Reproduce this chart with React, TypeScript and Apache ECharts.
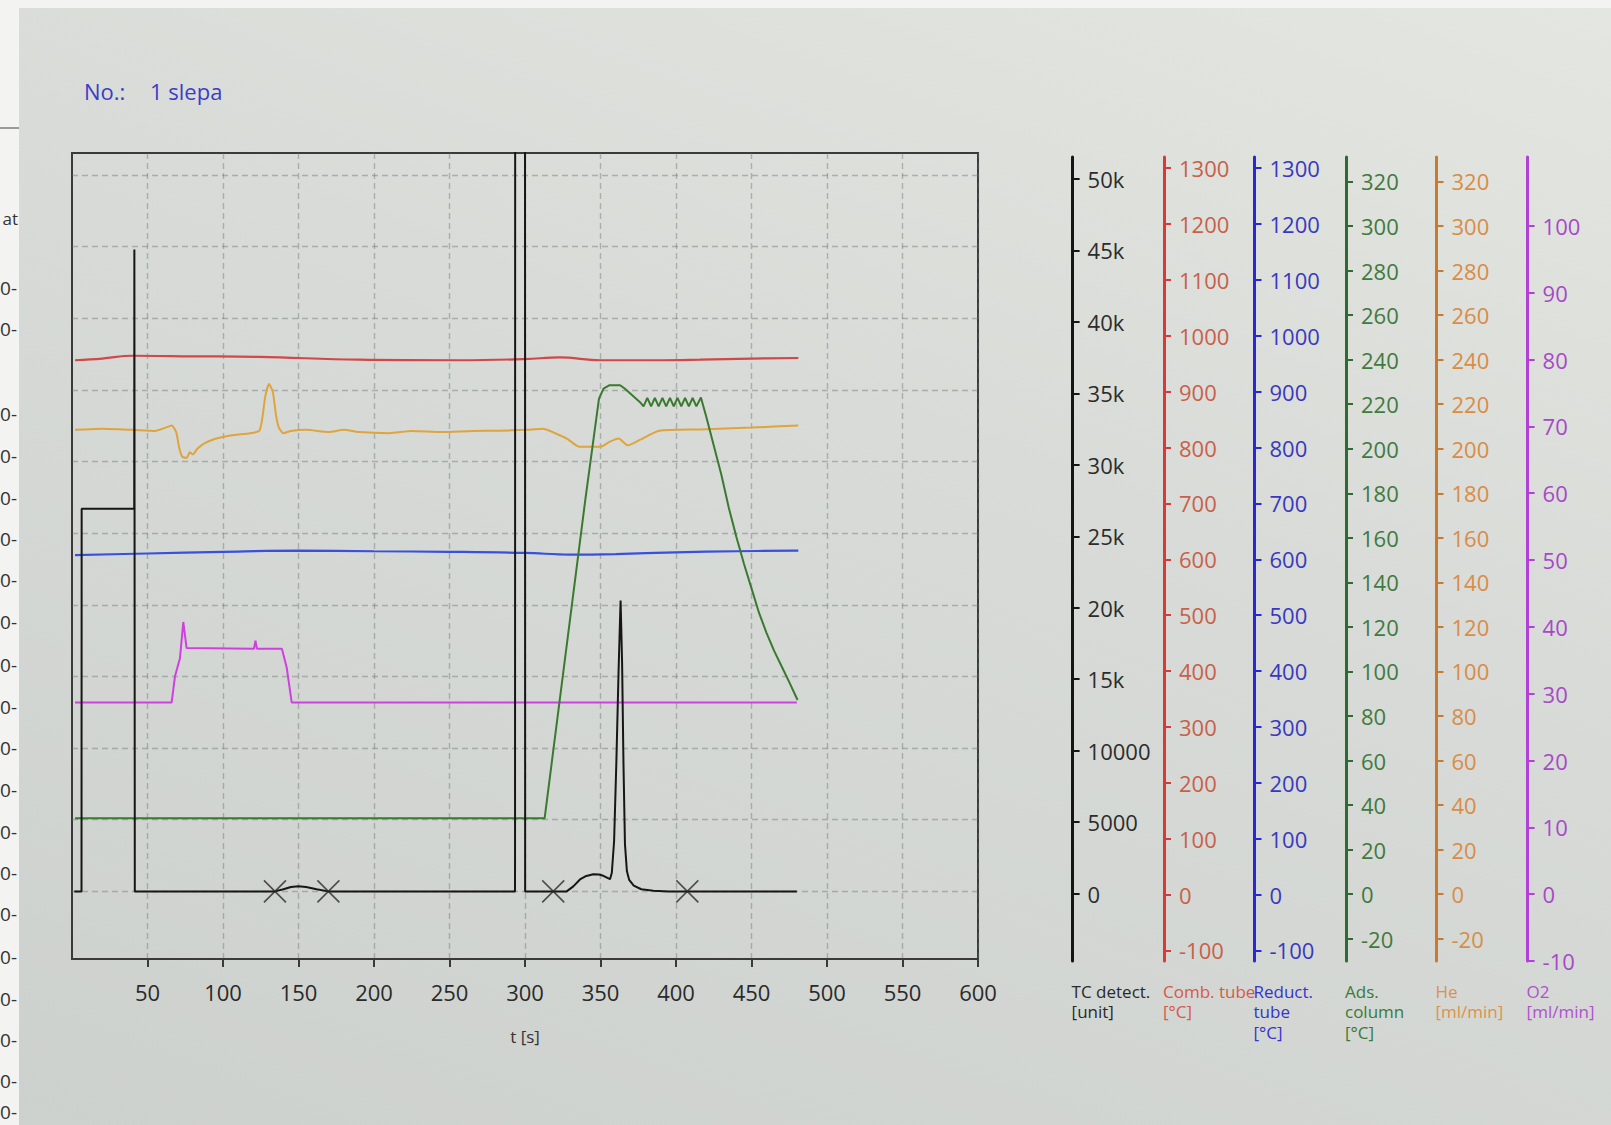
import React, { useEffect, useRef } from 'react';
import * as echarts from 'echarts';

const FONT = '"Open Sans", "Noto Sans", "DejaVu Sans", sans-serif';

// ---- tick values ----
const X_TICKS = [50, 100, 150, 200, 250, 300, 350, 400, 450, 500, 550, 600];
const TC_TICKS = [0, 5000, 10000, 15000, 20000, 25000, 30000, 35000, 40000, 45000, 50000];
const TEMP_TICKS = [-100, 0, 100, 200, 300, 400, 500, 600, 700, 800, 900, 1000, 1100, 1200, 1300];
const ADS_TICKS = [-20, 0, 20, 40, 60, 80, 100, 120, 140, 160, 180, 200, 220, 240, 260, 280, 300, 320];
const O2_TICKS = [-10, 0, 10, 20, 30, 40, 50, 60, 70, 80, 90, 100];

// ---- axis ranges ----
const X_RANGE = [0, 600];
const TC_RANGE = [-4720, 51540];
const TEMP_RANGE = [-119, 1320];
const ADS_RANGE = [-30, 331];
const O2_RANGE = [-10, 110.3];

// ---- series: [t (s), value] ----
const tcSignal: [number, number][] = [
  [1.5, 0], [6.3, 0], [6.4, 26700], [41.2, 26700], [41.3, 44800], [41.6, 0],
  [134.4, 0], [140, 150], [145, 300], [150, 350], [155, 300], [162, 150], [169.8, 0],
  [293.4, 0], [293.5, 60000], [300, 60000], [300.1, 0],
  [318.7, 0], [327.6, 0], [332, 350], [336.4, 830], [340, 1050], [345.2, 1200], [349, 1180],
  [351.9, 1090], [356.3, 850], [357.5, 1300], [359, 3500], [360.5, 9000], [362, 15500],
  [363.3, 20300], [364.3, 16000], [365.2, 9000], [366.2, 3300], [367.5, 1400], [369, 800],
  [372, 400], [377, 150], [385, 50], [395, 0], [480, 0],
];

const combTube: [number, number][] = [
  [2, 950], [20, 953], [40, 958], [80, 957], [124, 956], [190, 951], [257, 950],
  [300, 952], [323, 955], [350, 950], [390, 950], [416, 951], [450, 953], [481, 954],
];

const reductTube: [number, number][] = [
  [2, 602], [50, 605], [100, 608], [150, 610], [200, 609], [250, 608], [300, 606],
  [330, 603], [360, 604], [400, 607], [440, 609], [481, 610],
];

const adsColumn: [number, number][] = [
  [2, 33], [100, 33], [200, 33], [313, 33], [340, 176], [349, 221], [352, 225.5], [356, 227],
  [363, 227], [366, 225.5], [376, 219.5], [378.5, 217.5], [381, 221.3], [383.5, 217.5],
  [386, 221.3], [388.5, 217.5], [391, 221.3], [393.5, 217.5], [396, 221.3], [398.5, 217.5],
  [401, 221.3], [403.5, 217.5], [406, 221.3], [408.5, 217.5], [411, 221.3], [413.5, 217.5],
  [416.5, 221.5], [420, 213], [425, 200], [430, 187], [435, 172], [440, 159], [445, 147],
  [450, 136], [455, 125], [460, 116], [465, 108], [470, 101], [475, 94], [480.5, 86],
];

const heFlow: [number, number][] = [
  [2, 207], [20, 207.5], [40, 207], [55, 206.5], [62, 208], [66, 209], [69, 206], [71, 199],
  [73, 195], [76, 194.5], [78, 197], [80, 196], [83, 198.5], [88, 201], [95, 203], [105, 204.5],
  [118, 205.5], [124, 206.5], [126, 212], [128, 222], [130.5, 227.5], [133, 224], [135, 214],
  [137, 208], [140, 205.5], [145, 206.5], [155, 207], [170, 206], [180, 207], [190, 206],
  [210, 205.5], [225, 206.5], [245, 206], [265, 206.5], [283, 206.6], [300, 207], [312, 207.5],
  [320, 205.5], [328, 203], [336, 199.4], [350, 199.4], [356, 201.6], [362, 203.1], [368, 200.1],
  [376, 202.5], [389, 206.6], [416, 207.2], [450, 208], [481, 209],
];

const o2Flow: [number, number][] = [
  [2, 28.3], [66, 28.3], [68.2, 32.2], [71.5, 34.9], [73.7, 40.3], [75.9, 36.4], [120.5, 36.3],
  [121.5, 37.5], [122.5, 36.3], [139, 36.3], [142.2, 33.5], [145.5, 28.3], [480, 28.3],
];

const integrationMarks: [number, number][] = [[134.4, 0], [169.8, 0], [318.7, 0], [407.5, 0]];

const AXIS_NAMES = [
  'TC detect.\n[unit]',
  'Comb. tube\n[°C]',
  'Reduct.\ntube\n[°C]',
  'Ads.\ncolumn\n[°C]',
  'He\n[ml/min]',
  'O2\n[ml/min]',
];

const LEFT_STRIP_ROWS = [288, 329, 414, 456, 498, 539, 580, 622, 665, 707, 748, 790, 832, 873, 914, 957, 999, 1040, 1081, 1112];

function buildOption() {
  const grid0 = { left: 72, right: 633, top: 153, bottom: 166 };
  const sideRight = 538.4; // TC axis at x = 1072.6
  const sideX = [1072.6, 1164, 1254.5, 1346, 1436.5, 1527.6];

  const lineColors = ['#151515', '#d83a3a', '#2828d8', '#2f6b2f', '#c87a30', '#b040d8'];
  const labelColors = ['#2c2c2c', '#c8604a', '#3838c0', '#3f7a3f', '#d88c48', '#a848c8'];
  const nameColors = ['#2a2a2a', '#d8584a', '#3434d0', '#3a7a3a', '#e0904a', '#b050d0'];
  const ranges = [TC_RANGE, TEMP_RANGE, TEMP_RANGE, ADS_RANGE, ADS_RANGE, O2_RANGE];
  const ticks = [TC_TICKS, TEMP_TICKS, TEMP_TICKS, ADS_TICKS, ADS_TICKS, O2_TICKS];

  const gridDash = { color: 'rgba(105,112,112,0.42)', width: 1.4, type: [6, 4] };

  const hiddenAxes = ranges.map((r, i) => ({
    gridIndex: 0,
    type: 'value',
    min: r[0],
    max: r[1],
    position: 'left',
    axisLine: { show: false },
    axisTick: { show: false, customValues: ticks[i] },
    axisLabel: { show: false },
    splitLine: { show: i === 0, lineStyle: gridDash },
  }));

  const sideAxes = ranges.map((r, i) => ({
    gridIndex: 1,
    type: 'value',
    min: r[0],
    max: r[1],
    position: 'right',
    offset: sideX[i] - sideX[0],
    axisLine: { show: true, onZero: false, lineStyle: { color: lineColors[i], width: 3 } },
    axisTick: {
      show: true,
      length: 7,
      customValues: ticks[i],
      lineStyle: { color: lineColors[i], width: 2 },
    },
    axisLabel: {
      show: true,
      customValues: ticks[i],
      color: labelColors[i],
      fontSize: 22,
      fontFamily: FONT,
      margin: 15,
      formatter: (v: number) => (i === 0 && v >= 15000 ? `${v / 1000}k` : String(v)),
    },
    splitLine: { show: false },
  }));

  const lineSeries = (name: string, data: [number, number][], yIdx: number, color: string, width: number, smooth: number | boolean, z: number) => ({
    name,
    type: 'line',
    xAxisIndex: 0,
    yAxisIndex: yIdx,
    data,
    showSymbol: false,
    symbol: 'none',
    smooth,
    clip: true,
    z,
    lineStyle: { color, width },
  });

  const graphic: any[] = [
    { type: 'rect', shape: { x: 0, y: 0, width: 1611, height: 8 }, style: { fill: '#f3f4f2' }, silent: true },
    { type: 'rect', shape: { x: 0, y: 0, width: 19, height: 1125 }, style: { fill: '#f3f4f2' }, silent: true },
    { type: 'line', shape: { x1: 0, y1: 128, x2: 19, y2: 128 }, style: { stroke: '#9a9a9a', lineWidth: 2 }, silent: true },
    {
      type: 'text', x: 18, y: 218,
      style: { text: 'at', fill: '#333', fontSize: 17, fontFamily: FONT, align: 'right', textAlign: 'right', verticalAlign: 'middle', textVerticalAlign: 'middle' },
    },
    ...LEFT_STRIP_ROWS.map((y) => ({
      type: 'text', x: 17, y,
      style: { text: '0-', fill: '#333', fontSize: 19, fontFamily: FONT, align: 'right', textAlign: 'right', verticalAlign: 'middle', textVerticalAlign: 'middle' },
    })),
    {
      type: 'text', x: 84, y: 91,
      style: { text: 'No.:', fill: '#3c3cc8', fontSize: 22, fontFamily: FONT, verticalAlign: 'middle', textVerticalAlign: 'middle' },
    },
    {
      type: 'text', x: 150, y: 91,
      style: { text: '1 slepa', fill: '#3c3cc8', fontSize: 22, fontFamily: FONT, verticalAlign: 'middle', textVerticalAlign: 'middle' },
    },
    ...AXIS_NAMES.map((t, i) => ({
      type: 'text', x: sideX[i] - 1, y: 981,
      style: { text: t, fill: nameColors[i], fontSize: 17, lineHeight: 20.5, fontFamily: FONT, verticalAlign: 'top', textVerticalAlign: 'top' },
    })),
  ];

  return {
    animation: false,
    backgroundColor: 'transparent',
    textStyle: { fontFamily: FONT },
    grid: [
      { ...grid0, show: true, borderColor: '#3a3a3a', borderWidth: 2, backgroundColor: 'transparent', containLabel: false },
      { left: 1000, right: sideRight, top: 157, bottom: 164, show: false, containLabel: false },
    ],
    xAxis: [
      {
        gridIndex: 0,
        type: 'value',
        min: X_RANGE[0],
        max: X_RANGE[1],
        position: 'bottom',
        axisLine: { show: true, onZero: false, lineStyle: { color: '#3a3a3a', width: 2 } },
        axisTick: { show: true, length: 8, customValues: X_TICKS, lineStyle: { color: '#3a3a3a', width: 2 } },
        axisLabel: { show: true, customValues: X_TICKS, fontSize: 22, color: '#2a2a2a', fontFamily: FONT, margin: 22 },
        splitLine: { show: true, lineStyle: gridDash },
        name: 't [s]',
        nameLocation: 'middle',
        nameGap: 69,
        nameTextStyle: { fontSize: 17, color: '#333', fontFamily: FONT },
      },
      { gridIndex: 1, type: 'value', show: false, min: 0, max: 1 },
    ],
    yAxis: [...hiddenAxes, ...sideAxes],
    graphic,
    series: [
      lineSeries('O2', o2Flow, 5, '#d040e0', 2, false, 3),
      lineSeries('Reduct. tube', reductTube, 2, '#3850e0', 2.2, 0.4, 3),
      lineSeries('Comb. tube', combTube, 1, '#d04848', 2.2, 0.4, 3),
      lineSeries('He', heFlow, 4, '#e0a43c', 2, 0.2, 3),
      lineSeries('Ads. column', adsColumn, 3, '#3a7a30', 2, false, 4),
      lineSeries('TC detect.', tcSignal, 0, '#161616', 2, false, 5),
      {
        name: 'marks',
        type: 'scatter',
        xAxisIndex: 0,
        yAxisIndex: 0,
        data: integrationMarks,
        symbol: 'path://M0,0L20,20M20,0L0,20',
        symbolSize: 22,
        z: 6,
        itemStyle: { color: 'rgba(0,0,0,0)', borderColor: '#2a2a2a', borderWidth: 1.6 },
      },
    ],
  };
}

export default function App() {
  const ref = useRef<HTMLDivElement>(null);
  useEffect(() => {
    if (!ref.current) return;
    const chart = echarts.init(ref.current, null, { renderer: 'svg' });
    chart.setOption(buildOption() as any);
    return () => chart.dispose();
  }, []);
  return (
    <div
      ref={ref}
      style={{
        position: 'fixed',
        left: 0,
        top: 0,
        width: 1611,
        height: 1125,
        background: 'linear-gradient(200deg, #e4e6e1 0%, #d8dbd7 40%, #cdd1cd 100%)',
      }}
    />
  );
}
